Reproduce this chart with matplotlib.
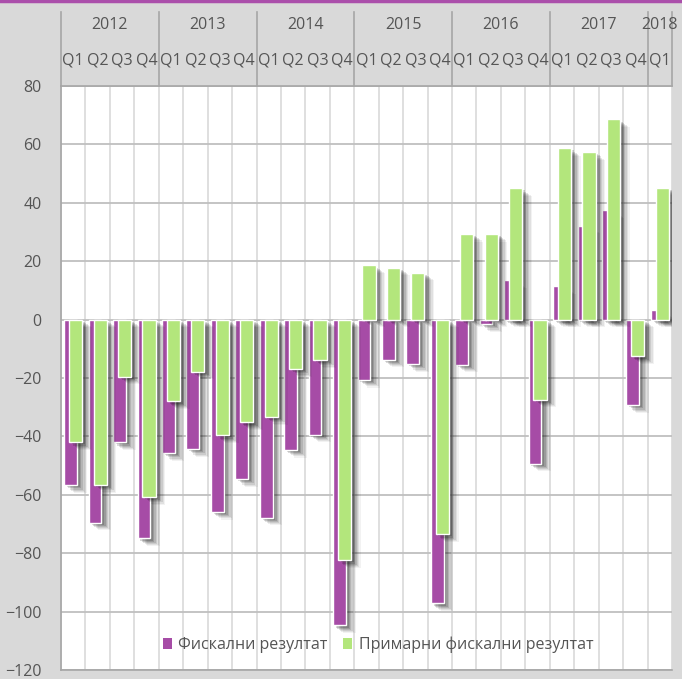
import numpy as np
import matplotlib
matplotlib.use('Agg')
import matplotlib.pyplot as plt
import matplotlib.patheffects as pe
from matplotlib.patches import Patch
from matplotlib.lines import Line2D

plt.rcParams['font.family'] = ['Open Sans', 'DejaVu Sans']

# 2012 Q1 .. 2018 Q1
years = ['2012', '2013', '2014', '2015', '2016', '2017', '2018']
quarters = ['Q1', 'Q2', 'Q3', 'Q4'] * 6 + ['Q1']
fiscal = [-56.7, -69.5, -42.0, -74.9,
          -45.7, -44.3, -65.8, -54.6,
          -67.8, -44.6, -39.4, -104.7,
          -20.6, -13.7, -15.2, -97.2,
          -15.4, -1.5, 13.5, -49.3,
          11.4, 32.2, 37.4, -29.3,
          3.2]
primary = [-42.0, -56.6, -19.5, -60.7,
           -28.0, -17.8, -39.6, -35.2,
           -33.3, -16.9, -13.8, -82.4,
           18.6, 17.8, 16.1, -73.5,
           29.4, 29.4, 45.0, -27.4,
           58.7, 57.4, 68.6, -12.6,
           45.2]
lbl_fiscal = 'Фискални резултат'
lbl_primary = 'Примарни фискални резултат'

c_purple = '#a64ca6'
c_green = '#b3e67c'
txt = '#555555'
bg = '#d9d9d9'
fs = 11.5

fig = plt.figure(figsize=(6.82, 6.79), dpi=100, facecolor=bg)
ax = fig.add_axes([61/682, 9/679, 611/682, 584/679])
ax.set_facecolor('white')

x = np.arange(len(fiscal))
# soft drop shadow to the lower right of each bar
shadow = [pe.SimplePatchShadow(offset=(d, -d * 0.8), shadow_rgbFace='k', alpha=a)
          for d, a in [(7, 0.05), (6, 0.07), (5, 0.09), (4, 0.11), (3, 0.14), (2, 0.16)]]
shadow.append(pe.Normal())

ax.bar(x - 0.105, fiscal, width=0.52, color=c_purple, edgecolor='white',
       linewidth=1.0, path_effects=shadow, zorder=3)
ax.bar(x + 0.10, primary, width=0.54, color=c_green, edgecolor='white',
       linewidth=1.0, path_effects=shadow, zorder=4)

ax.set_xlim(-0.5, len(fiscal) - 0.5)
ax.set_ylim(-120, 80)
ax.set_yticks(np.arange(-120, 81, 20))
ax.tick_params(axis='y', length=0, labelsize=fs, labelcolor=txt, pad=14)
ax.set_xticks([])
ax.set_xticks(np.arange(-0.5, len(fiscal)), minor=True)
ax.tick_params(axis='x', which='both', length=0, labelbottom=False)
ax.grid(axis='y', color='#bfbfbf', linewidth=1.3, zorder=0)
ax.grid(axis='x', which='minor', color='#dcdcdc', linewidth=1.3, zorder=0)
ax.set_axisbelow(True)

for s in ['left', 'bottom', 'top']:
    ax.spines[s].set_color('#a6a6a6')
    ax.spines[s].set_linewidth(1.2)
ax.spines['right'].set_visible(False)

# header with quarters and years
trans = ax.get_xaxis_transform()
for i, q in enumerate(quarters):
    ax.text(i, 1.0445, q, transform=trans, ha='center', va='center',
            fontsize=fs, color=txt)
for k, y in enumerate(years):
    start = 4 * k
    stop = min(start + 4, len(fiscal))
    ax.text((start + stop - 1) / 2, 1.1045, y, transform=trans, ha='center',
            va='center', fontsize=fs, color=txt)
    ax.plot([start - 0.5, start - 0.5], [1, 1.127], transform=trans,
            color='#a6a6a6', lw=1.2, clip_on=False)
ax.plot([len(fiscal) - 0.5] * 2, [1, 1.127], transform=trans,
        color='#a6a6a6', lw=1.2, clip_on=False)

handles = [Patch(facecolor=c_purple, edgecolor='none'),
           Patch(facecolor=c_green, edgecolor='none')]
ax.legend(handles, [lbl_fiscal, lbl_primary], loc='center',
          bbox_to_anchor=(0.519, 0.043), ncol=2, frameon=False,
          handlelength=0.55, handleheight=0.7, handletextpad=0.4,
          columnspacing=1.0, fontsize=fs, labelcolor=txt)

fig.add_artist(Line2D([0, 1], [0.9985, 0.9985], color='#ab4fab', lw=2.5))

fig.savefig('out.png', dpi=100, facecolor=bg)
